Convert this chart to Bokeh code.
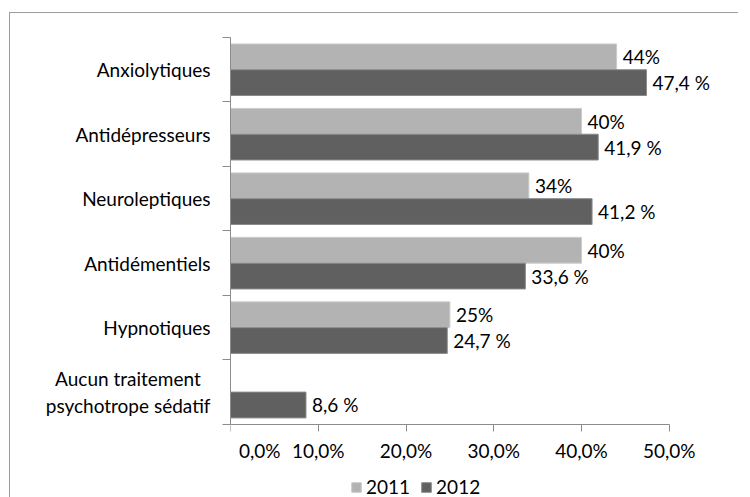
from bokeh.plotting import figure
from bokeh.layouts import column
from bokeh.models import ColumnDataSource, FixedTicker, LabelSet, Legend, LegendItem, Range1d
from bokeh.core.properties import value
from bokeh.embed import file_html
from bokeh.resources import INLINE

categories = ["Anxiolytiques", "Antidépresseurs", "Neuroleptiques", "Antidémentiels",
              "Hypnotiques", "Aucun traitement\u00a0\u00a0\npsychotrope sédatif"]
values_2011 = [44, 40, 34, 40, 25, None]
values_2012 = [47.4, 41.9, 41.2, 33.6, 24.7, 8.6]
labels_2011 = ["44%", "40%", "34%", "40%", "25%", ""]
labels_2012 = ["47,4 %", "41,9 %", "41,2 %", "33,6 %", "24,7 %", "8,6 %"]
x_ticks = [0, 10, 20, 30, 40, 50]
x_tick_labels = ["\u00a0" * 12 + "0,0%", "10,0%", "20,0%", "30,0%", "40,0%", "50,0%"]

FONT = "Lato"
FS = "19px"
n = len(categories)
centers = [n - i - 0.5 for i in range(n)]

BAND_PX = 386 / n          # pixel height of one category band
EXTRA_PX = 74              # room kept inside the frame for axis labels and legend
FRAME_H = 386 + EXTRA_PX

rows11 = [(c, v, l) for c, v, l in zip(centers, values_2011, labels_2011) if v is not None]
src11 = ColumnDataSource(dict(y=[r[0] + 0.2 for r in rows11], x=[r[1] for r in rows11],
                              lab=[r[2] for r in rows11]))
src12 = ColumnDataSource(dict(y=[c - 0.2 for c in centers], x=values_2012, lab=labels_2012))

p = figure(frame_width=508, frame_height=FRAME_H, output_backend="svg", toolbar_location=None,
           x_range=Range1d(0, 58), y_range=Range1d(-EXTRA_PX / BAND_PX, n),
           min_border_left=220, min_border_right=0, min_border_top=24, min_border_bottom=0)
p.styles = {"border-top": "1px solid #9c9c9c", "border-left": "1px solid #9c9c9c"}
p.outline_line_color = None
p.grid.visible = False
p.background_fill_color = "white"
p.border_fill_color = "white"

r11 = p.hbar(y="y", right="x", left=0, height=0.4, source=src11,
             fill_color="#b3b3b3", line_color="#cccccc", line_width=1)
r12 = p.hbar(y="y", right="x", left=0, height=0.4, source=src12,
             fill_color="#606060", line_color="#8a8a8a", line_width=1)

for src in (src11, src12):
    p.add_layout(LabelSet(x="x", y="y", text="lab", source=src, x_offset=6,
                          text_baseline="middle", text_font=value(FONT),
                          text_font_size=value(FS), text_color="#000000"))

# x axis, pinned at the bottom of the category bands
xa = p.xaxis[0]
xa.axis_label = None
xa.fixed_location = 0
xa.ticker = FixedTicker(ticks=x_ticks)
xa.bounds = (0, 50)
xa.major_label_overrides = {t: l for t, l in zip(x_ticks, x_tick_labels)}
xa.axis_line_color = "#8c8c8c"
xa.major_tick_line_color = "#8c8c8c"
xa.major_tick_out = 7
xa.major_tick_in = 0
xa.minor_tick_line_color = None
xa.major_label_standoff = 8
xa.major_label_text_font = FONT
xa.major_label_text_font_size = FS
xa.major_label_text_color = "#000000"

# y axis: labels at band centres, ticks at band boundaries
ya = p.yaxis[0]
ya.axis_label = None
ya.bounds = (0, n)
ya.ticker = FixedTicker(ticks=centers, minor_ticks=list(range(n + 1)))
ya.major_label_overrides = {c: cat for c, cat in zip(centers, categories)}
ya.axis_line_color = "#8c8c8c"
ya.major_tick_line_color = None
ya.major_tick_out = 0
ya.major_tick_in = 0
ya.minor_tick_line_color = "#8c8c8c"
ya.minor_tick_out = 8
ya.minor_tick_in = 0
ya.major_label_standoff = 12
ya.major_label_text_font = FONT
ya.major_label_text_font_size = FS
ya.major_label_text_color = "#000000"

legend = Legend(items=[LegendItem(label="2011", renderers=[r11]),
                       LegendItem(label="2012", renderers=[r12])],
                orientation="horizontal", location=(120, 0),
                glyph_width=12, glyph_height=12, label_standoff=4, spacing=10,
                padding=0, margin=0, border_line_color=None, background_fill_alpha=0,
                label_text_font=FONT, label_text_font_size=FS, label_text_color="#000000")
p.add_layout(legend, "center")

layout = column(p, styles={"padding-top": "12px", "padding-left": "9px"})

open("out.html", "w").write(file_html(layout, INLINE))
